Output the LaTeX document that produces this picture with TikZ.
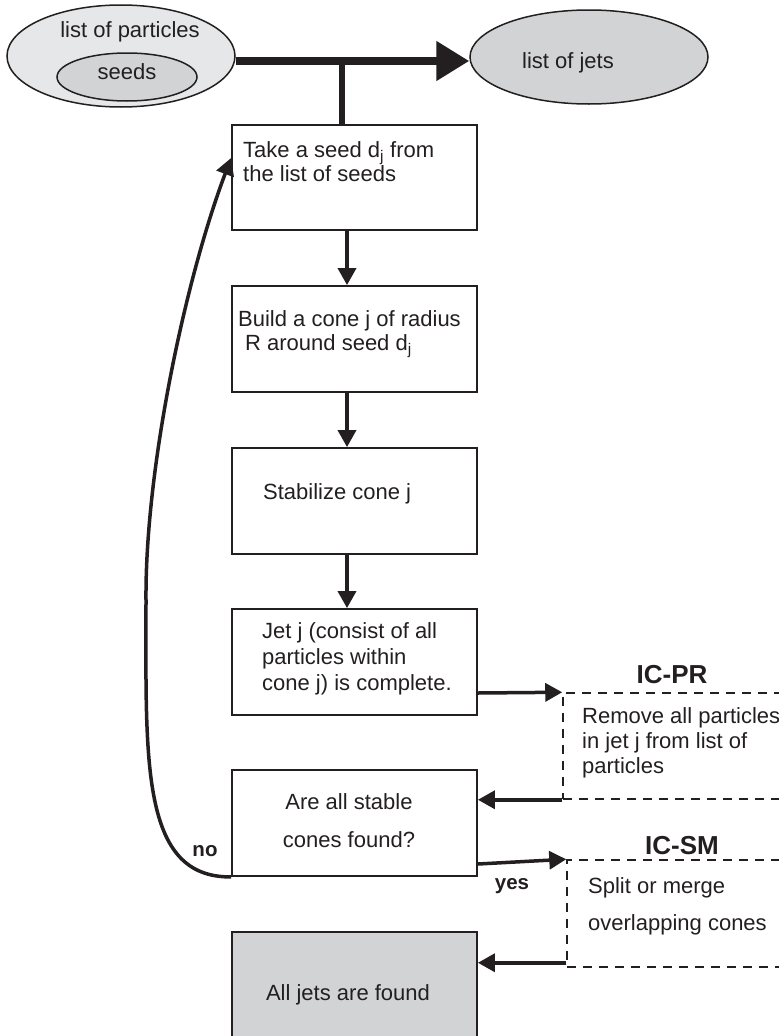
\documentclass[tikz,border=0pt]{standalone}
\usepackage{fontspec}
\setmainfont{Liberation Sans}
\usetikzlibrary{shapes.geometric, arrows.meta, positioning, calc}

\definecolor{inkline}{HTML}{231F20}
\definecolor{lightfill}{HTML}{E6E7E8}
\definecolor{midfill}{HTML}{D1D3D4}

\begin{document}
\begin{tikzpicture}[x=1pt, y=-1pt, color=inkline,
    stepbox/.style={draw=inkline, line width=1.8pt, minimum width=245pt, minimum height=106pt, inner sep=0pt},
    icbox/.style={draw=inkline, line width=1.5pt, dash pattern=on 9pt off 7pt, inner sep=0pt},
    blob/.style={ellipse, draw=inkline, line width=1.5pt, inner sep=0pt},
    boxtext/.style={font=\fontsize{22pt}{24.5pt}\selectfont, align=left, anchor=west, inner sep=0pt},
    flowarrow/.style={line width=3.5pt, -{Triangle[width=18pt, length=17pt]}},
    yesno/.style={font=\fontsize{20.5pt}{22pt}\selectfont\bfseries, inner sep=0pt},
    ictitle/.style={font=\fontsize{26pt}{28pt}\selectfont\bfseries, inner sep=0pt}]

\useasboundingbox (0,0) rectangle (779,1036);

% Input and output lists
\node[blob, fill=lightfill, minimum width=228pt, minimum height=102pt] (parts) at (121,56) {};
\node[blob, fill=midfill, minimum width=140pt, minimum height=48pt] (seeds) at (127,77) {};
\node[blob, fill=midfill, minimum width=238pt, minimum height=94pt] (jets) at (589,57) {};
\node[boxtext, anchor=center] (partslabel) at (130,32) {list of particles};
\node[boxtext, anchor=center] (seedslabel) at (127,72) {seeds};
\node[boxtext, anchor=center] (jetslabel) at (568,63) {list of jets};

% Steps of the cone algorithm
\node[stepbox, minimum height=105pt] (take) at (354.5,177.5) {};
\node[stepbox] (build) at (354.5,339) {};
\node[stepbox] (stab) at (354.5,501) {};
\node[stepbox] (jetdone) at (354.5,662) {};
\node[stepbox] (allcones) at (354.5,823) {};
\node[stepbox, fill=midfill] (alljets) at (354.5,985) {};

\node[boxtext] (taketext) at (243,161.5) {Take a seed d\textsubscript{j} from\\the list of seeds};
\node[boxtext] (buildtext) at (238,334) {Build a cone j of radius\\\hspace*{7pt}R around seed d\textsubscript{j}};
\node[boxtext] (stabtext) at (263,494) {Stabilize cone j};
\node[boxtext, font=\fontsize{22pt}{26pt}\selectfont] (jetdonetext) at (262,659) {Jet j (consist of all\\particles within\\cone j) is complete.};
\node[boxtext, anchor=center, align=center, font=\fontsize{22pt}{38pt}\selectfont] (allconestext) at (349,821) {Are all stable\\cones found?};
\node[boxtext, anchor=center] (alljetstext) at (348,995) {All jets are found};

% Infrared/collinear safe side steps
\node[icbox, minimum width=257pt, minimum height=106pt] (icpr) at (691.5,746) {};
\node[icbox, minimum width=253pt, minimum height=107pt] (icsm) at (693.5,913.5) {};
\node[ictitle] (icprtitle) at (672,675) {IC-PR};
\node[ictitle] (icsmtitle) at (682,846) {IC-SM};
\node[boxtext, font=\fontsize{22pt}{25pt}\selectfont] (icprtext) at (582,743) {Remove all particles\\in jet j from list of\\particles};
\node[boxtext, font=\fontsize{22pt}{37pt}\selectfont] (icsmtext) at (588,906.5) {Split or merge\\overlapping cones};

% Thick tee from the lists
\coordinate (tee) at (342,61);
\draw[line width=8pt, -{Triangle[width=38pt, length=33pt]}] (parts.east |- tee) -- (jets.west |- tee);
\draw[line width=6.5pt] (tee) -- (take.north -| tee);

% Main flow
\draw[flowarrow] ([xshift=-7.5pt]take.south) -- ([xshift=-7.5pt]build.north);
\draw[flowarrow] ([xshift=-7.5pt]build.south) -- ([xshift=-7.5pt]stab.north);
\draw[flowarrow] ([xshift=-7.5pt]stab.south) -- ([xshift=-7.5pt]jetdone.north);
\draw[flowarrow] ([yshift=-31pt]jetdone.east) -- (icpr.north west);
\draw[flowarrow] (icpr.south west) -- (icpr.south west -| allcones.east);
\draw[flowarrow] ([yshift=-41pt]allcones.east) -- (icsm.north west);
\draw[flowarrow] ([yshift=5pt]icsm.south west) -- ([yshift=5pt]icsm.south west -| alljets.east);

% Loop back for the next seed
\draw[flowarrow] (allcones.south west) .. controls (140,878) and (146,760) .. (146,600)
    .. controls (145,470) and (185,280) .. ([yshift=19.5pt]take.west);

\node[yesno] (nolabel) at (205,851) {no};
\node[yesno] (yeslabel) at (512,886) {yes};

\end{tikzpicture}
\end{document}
